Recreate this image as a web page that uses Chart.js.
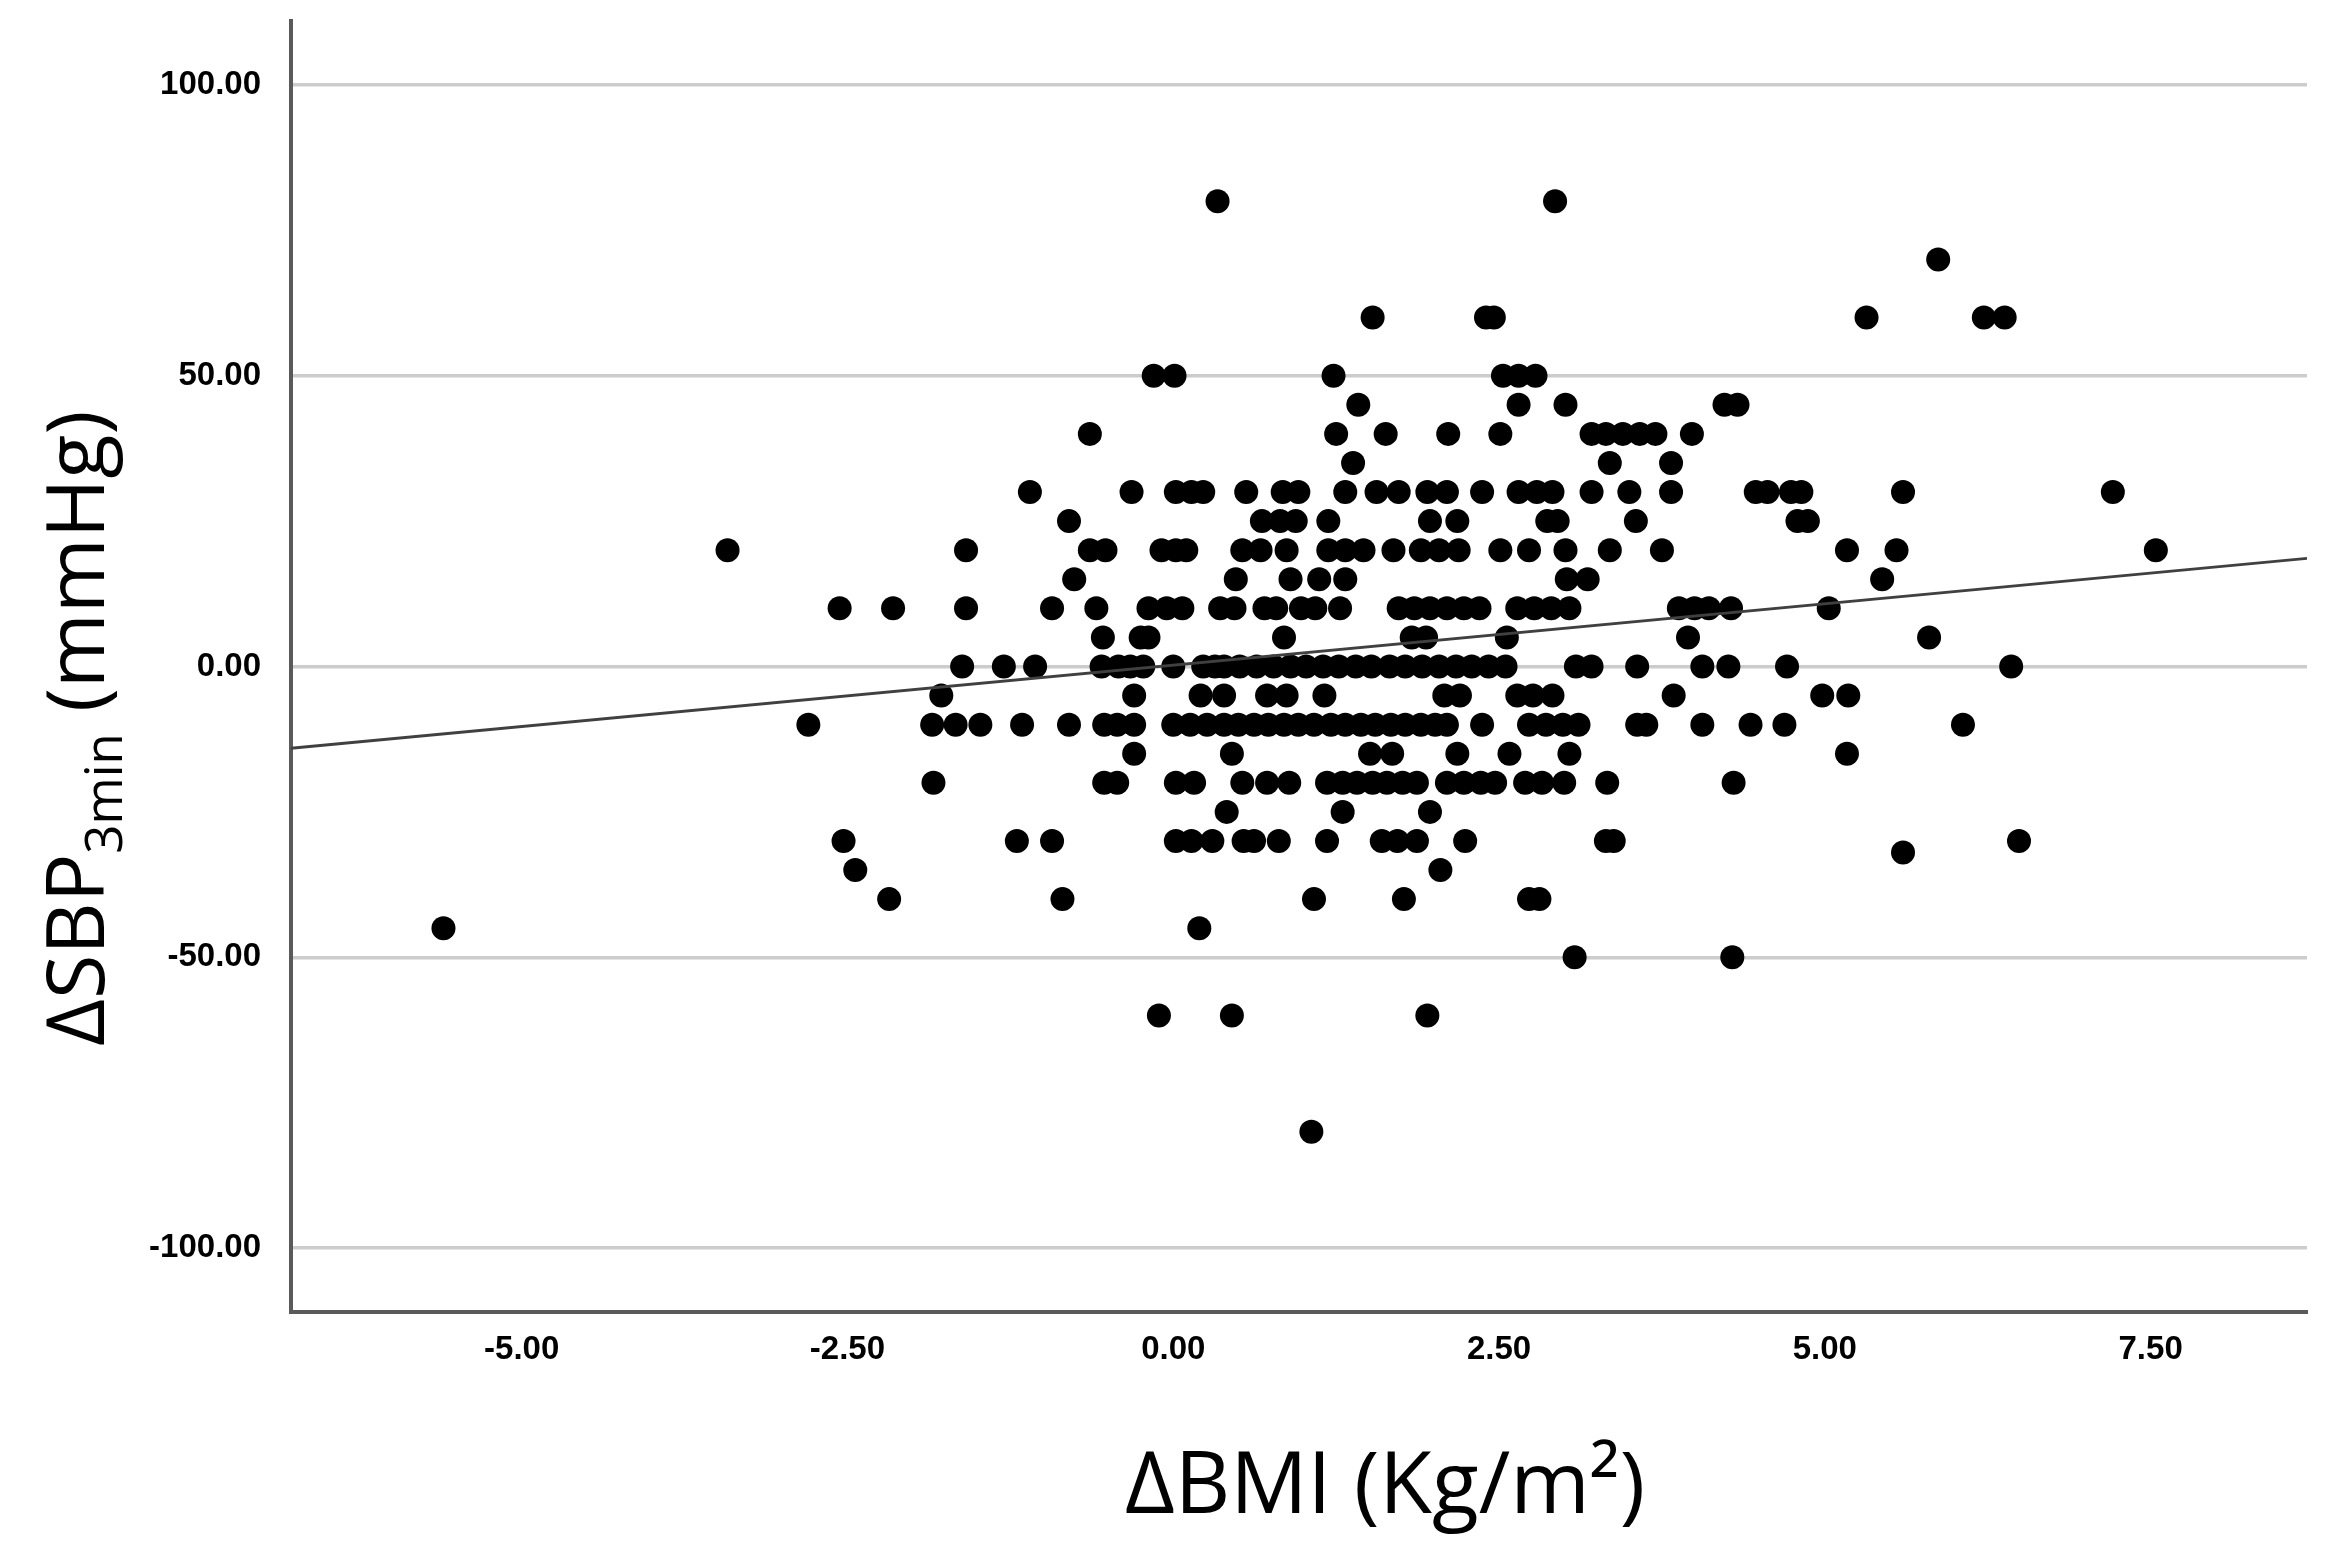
<!DOCTYPE html>
<html>
<head>
<meta charset="utf-8">
<script src="https://cdn.jsdelivr.net/npm/chart.js@4.4.1/dist/chart.umd.min.js"></script>
<style>
html, body { margin:0; padding:0; background:#fff; }
#okvir { width:2341px; height:1556px; }
</style>
</head>
<body>
<div id="okvir"><canvas id="grafikon" width="2341" height="1556"></canvas></div>
<script>
// razine promjene SBP (mmHg) i promjene BMI tocaka na svakoj razini
var sbpLevels = [80, 70, 60, 50, 45, 40, 35, 30, 25, 20, 15, 10, 5, 0, -5, -10, -15, -20, -25, -30, -32, -35, -40, -45, -50, -60, -80];
var bmiAtLevel = [
    [0.34, 2.93],
    [5.87],
    [1.53, 2.40, 2.46, 5.32, 6.22, 6.38],
    [-0.15, 0.01, 1.23, 2.53, 2.65, 2.78],
    [1.42, 2.65, 3.01, 4.23, 4.33],
    [-0.64, 1.25, 1.63, 2.11, 2.51, 3.21, 3.32, 3.45, 3.58, 3.70, 3.98],
    [1.38, 3.35, 3.82],
    [-1.10, -0.32, 0.02, 0.14, 0.23, 0.56, 0.84, 0.96, 1.32, 1.56, 1.73, 1.95, 2.10, 2.37, 2.65, 2.79, 2.91, 3.21, 3.50, 3.82, 4.47, 4.56, 4.74, 4.82, 5.60, 7.21],
    [-0.80, 0.68, 0.82, 0.94, 1.19, 1.97, 2.18, 2.87, 2.95, 3.55, 4.79, 4.87],
    [-3.42, -1.59, -0.64, -0.52, -0.09, 0.02, 0.10, 0.53, 0.67, 0.87, 1.19, 1.32, 1.46, 1.69, 1.90, 2.04, 2.19, 2.51, 2.73, 3.01, 3.35, 3.75, 5.17, 5.55, 7.54],
    [-0.76, 0.48, 0.90, 1.12, 1.32, 3.02, 3.18, 5.44],
    [-2.56, -2.15, -1.59, -0.93, -0.59, -0.19, -0.05, 0.07, 0.36, 0.47, 0.70, 0.79, 0.98, 1.09, 1.28, 1.73, 1.85, 1.97, 2.10, 2.23, 2.35, 2.64, 2.77, 2.90, 3.04, 3.88, 4.00, 4.11, 4.28, 5.03],
    [-0.54, -0.25, -0.19, 0.85, 1.83, 1.94, 2.56, 3.95, 5.80],
    [-1.62, -1.30, -1.06, -0.55, -0.42, -0.33, -0.23, 0.00, 0.23, 0.32, 0.39, 0.51, 0.64, 0.77, 0.90, 1.02, 1.15, 1.27, 1.40, 1.52, 1.66, 1.78, 1.91, 2.04, 2.17, 2.29, 2.42, 2.55, 3.09, 3.21, 3.56, 4.06, 4.26, 4.71, 6.43],
    [-1.78, -0.30, 0.21, 0.39, 0.72, 0.87, 1.16, 2.08, 2.20, 2.64, 2.76, 2.91, 3.84, 4.98, 5.18],
    [-2.80, -1.85, -1.67, -1.48, -1.16, -0.80, -0.53, -0.43, -0.30, 0.00, 0.13, 0.26, 0.39, 0.50, 0.62, 0.73, 0.85, 0.96, 1.08, 1.21, 1.32, 1.44, 1.55, 1.67, 1.78, 1.90, 2.01, 2.10, 2.37, 2.73, 2.86, 2.99, 3.11, 3.56, 3.63, 4.06, 4.43, 4.69, 6.06],
    [-0.30, 0.45, 1.51, 1.68, 2.18, 2.58, 3.04, 5.17],
    [-1.84, -0.53, -0.43, 0.02, 0.16, 0.53, 0.72, 0.89, 1.18, 1.30, 1.41, 1.53, 1.64, 1.76, 1.87, 2.10, 2.23, 2.36, 2.47, 2.70, 2.83, 3.00, 3.33, 4.30],
    [0.41, 1.30, 1.97],
    [-2.53, -1.20, -0.93, 0.02, 0.14, 0.30, 0.54, 0.62, 0.81, 1.18, 1.60, 1.72, 1.87, 2.24, 3.32, 3.38, 6.49],
    [5.60],
    [-2.44, 2.05],
    [-2.18, -0.85, 1.08, 1.77, 2.73, 2.81],
    [-5.60, 0.20],
    [3.08, 4.29],
    [-0.11, 0.45, 1.95],
    [1.06]
];
var xTicks = [-5, -2.5, 0, 2.5, 5, 7.5];
var yTicks = [-100, -50, 0, 50, 100];
var xRange = [-6.77, 8.70];
var yRange = [-111, 111];
// pravac linearne regresije
var fitIntercept = 0.23;
var fitSlope = 2.11;

var tocke = [];
sbpLevels.forEach(function(razina, i){
    bmiAtLevel[i].forEach(function(b){
        tocke.push({x: b, y: razina});
    });
});

var pravac = xRange.map(function(x){
    return {x: x, y: fitIntercept + fitSlope * x};
});

// naslovi osi, s indeksom i eksponentom
var naslovi = {
    id: 'naslovi',
    afterDraw: function(chart){
        var ctx = chart.ctx;
        ctx.save();
        ctx.fillStyle = '#000';
        ctx.textBaseline = 'alphabetic';
        ctx.font = '86px "Open Sans"';
        ctx.textAlign = 'center';
        ctx.fillText('\u0394BMI (Kg/m\u00b2)', 1385, 1513);

        ctx.translate(104, 1046);
        ctx.rotate(-Math.PI / 2);
        ctx.textAlign = 'left';
        var dio1 = '\u0394SBP', indeks = '3min', dio2 = ' (mmHg)';
        ctx.font = '81px "Open Sans"';
        ctx.fillText(dio1, 0, 0);
        var w1 = ctx.measureText(dio1).width;
        ctx.font = '51px "Open Sans"';
        ctx.fillText(indeks, w1, 18);
        var w2 = ctx.measureText(indeks).width;
        ctx.font = '81px "Open Sans"';
        ctx.fillText(dio2, w1 + w2, 0);
        ctx.restore();
    }
};

var fontOsi = {family: '"Liberation Sans", Arial, sans-serif', weight: 'bold', size: 33};

new Chart(document.getElementById('grafikon'), {
    type: 'scatter',
    data: {
        datasets: [{
            label: 'tocke',
            data: tocke,
            backgroundColor: '#000',
            borderColor: '#000',
            borderWidth: 0,
            pointRadius: 12,
            order: 2
        }, {
            label: 'pravac',
            data: pravac,
            showLine: true,
            borderColor: '#404040',
            borderWidth: 2.8,
            pointRadius: 0,
            fill: false,
            order: 1
        }]
    },
    options: {
        responsive: false,
        animation: false,
        devicePixelRatio: 1,
        layout: {padding: {top: 21, right: 34, left: 0, bottom: 0}},
        plugins: {legend: {display: false}, tooltip: {enabled: false}},
        scales: {
            x: {
                type: 'linear',
                min: xRange[0],
                max: xRange[1],
                grid: {display: false, drawTicks: false},
                border: {display: true, color: '#5a5a5a', width: 4},
                ticks: {
                    color: '#000',
                    font: fontOsi,
                    padding: 18,
                    maxRotation: 0,
                    callback: function(v){ return v.toFixed(2); }
                },
                afterBuildTicks: function(s){
                    s.ticks = xTicks.map(function(v){ return {value: v}; });
                },
                afterFit: function(s){
                    s.height = 244;
                    s.paddingLeft = 0;
                    s.paddingRight = 0;
                }
            },
            y: {
                type: 'linear',
                min: yRange[0],
                max: yRange[1],
                grid: {color: '#cccccc', lineWidth: 3.5, drawTicks: false},
                border: {display: true, color: '#5a5a5a', width: 4},
                ticks: {
                    color: '#000',
                    font: fontOsi,
                    padding: 30,
                    callback: function(v){ return v.toFixed(2); }
                },
                afterBuildTicks: function(s){
                    s.ticks = yTicks.map(function(v){ return {value: v}; });
                },
                afterFit: function(s){
                    s.width = 291;
                    s.paddingTop = 0;
                    s.paddingBottom = 0;
                }
            }
        }
    },
    plugins: [naslovi]
});
</script>
</body>
</html>
